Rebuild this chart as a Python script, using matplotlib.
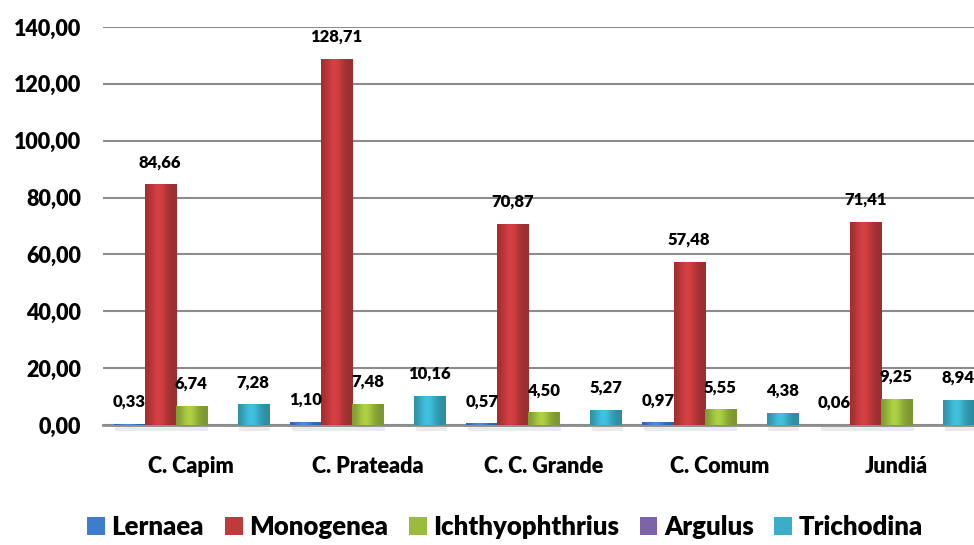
import matplotlib
matplotlib.use("Agg")
import matplotlib.pyplot as plt
import numpy as np
from matplotlib.colors import to_rgb
from matplotlib.patches import Rectangle

plt.rcParams['font.family'] = ['Lato', 'DejaVu Sans']
plt.rcParams['font.weight'] = 'heavy'

categories = ["C. Capim", "C. Prateada", "C. C. Grande", "C. Comum", "Jundiá"]
series_names = ["Lernaea", "Monogenea", "Ichthyophthrius", "Argulus", "Trichodina"]
lernaea = [0.33, 1.10, 0.57, 0.97, 0.06]
monogenea = [84.66, 128.71, 70.87, 57.48, 71.41]
ichthyophthrius = [6.74, 7.48, 4.50, 5.55, 9.25]
argulus = [0.0, 0.0, 0.0, 0.0, 0.0]
trichodina = [7.28, 10.16, 5.27, 4.38, 8.94]
yticks = [0, 20, 40, 60, 80, 100, 120, 140]

series_values = [lernaea, monogenea, ichthyophthrius, argulus, trichodina]
colors = ["#3E7DCC", "#C0393B", "#9BBB3C", "#7E62A8", "#3AAEC8"]

W, H = 974, 545
fig = plt.figure(figsize=(W / 100, H / 100), dpi=100)
ax = fig.add_axes([103 / W, (H - 425) / H, 881.5 / W, 398 / H])

x = np.arange(len(categories))
bw = 0.176
FW = 'heavy'

def fmt(v):
    return f"{v:.2f}".replace(".", ",")

def gradient_for(c):
    r, g, b = to_rgb(c)
    n = 64
    t = np.linspace(0, 1, n)
    f = 0.80 + 0.32 * np.exp(-((t - 0.42) / 0.28) ** 2)
    arr = np.zeros((1, n, 4))
    arr[0, :, 0] = np.clip(r * f, 0, 1)
    arr[0, :, 1] = np.clip(g * f, 0, 1)
    arr[0, :, 2] = np.clip(b * f, 0, 1)
    arr[0, :, 3] = 1
    return arr

for i, (name, vals, col) in enumerate(zip(series_names, series_values, colors)):
    offs = x + (i - 2) * bw
    bars = ax.bar(offs, vals, width=bw, color=col, label=name, zorder=3,
                  edgecolor='none')
    grad = gradient_for(col)
    for b, v in zip(bars, vals):
        if v <= 0:
            continue
        x0 = b.get_x()
        ax.add_patch(Rectangle((x0 + 0.01, -2.0), bw, 2.0, facecolor='#000000',
                               alpha=0.08, edgecolor='none', zorder=2,
                               clip_on=False))
        im = ax.imshow(grad, extent=(x0, x0 + bw, 0, v), aspect='auto',
                       zorder=3.5, interpolation='bicubic')
        im.set_clip_path(b)
        ax.annotate(fmt(v), (x0 + bw / 2, v), xytext=(0, 22),
                    textcoords='offset pixels', ha='center', va='center',
                    fontsize=12, fontweight=FW, color='black', zorder=5)

ax.set_xlim(-0.5, 4.5)
ax.set_ylim(0, 140)
ax.set_yticks(yticks)
ax.set_yticklabels([fmt(v) for v in yticks], fontsize=15.5, fontweight=FW)
ax.set_xticks(x)
ax.set_xticklabels(categories, fontsize=15.5, fontweight=FW)
ax.tick_params(axis='x', length=0, pad=22)
ax.tick_params(axis='y', length=0, pad=16)
ax.yaxis.grid(True, color='#8C8C8C', linewidth=1.5, zorder=0)
for s in ['top', 'right', 'left']:
    ax.spines[s].set_visible(False)
ax.spines['bottom'].set_color('#8C8C8C')
ax.spines['bottom'].set_linewidth(2)
ax.set_facecolor('white')

handles = [Rectangle((0, 0), 1, 1, facecolor=c, edgecolor='none') for c in colors]
leg = fig.legend(handles, series_names, loc='center', bbox_to_anchor=(505 / W, 1 - 527 / H),
                 ncol=5, frameon=False, prop={'size': 18.5, 'weight': FW},
                 handlelength=0.7, handleheight=0.7, handletextpad=0.25, columnspacing=0.8)

fig.savefig("out.png", dpi=100)
